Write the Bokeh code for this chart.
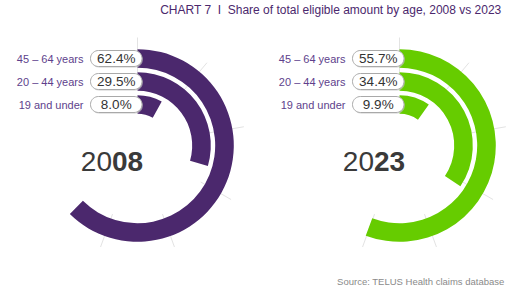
import numpy as np
from bokeh.plotting import figure
from bokeh.models import Range1d, ColumnDataSource
from bokeh.core.properties import value
from bokeh.embed import file_html
from bokeh.resources import INLINE

# ---- data ----
categories = ["45 – 64 years", "20 – 44 years", "19 and under"]
share_2008 = [62.4, 29.5, 8.0]
share_2023 = [55.7, 34.4, 9.9]
years = ["2008", "2023"]
title_text = "CHART 7\u00a0\u00a0I\u00a0\u00a0Share of total eligible amount by age, 2008 vs 2023"
source_text = "Source: TELUS Health claims database"

# ---- style / layout ----
W, H = 519, 296
FONT = value("Liberation Sans")
PURPLE = "#4B286D"
GREEN = "#66CC00"
LABEL_PURPLE = "#5E3F8C"
ring_colors = [PURPLE, GREEN]
centers_x = [137, 399]
center_y_img = 145
ring_mid_r = [87, 64, 41]
ring_half = 9.3
spoke_angles_deg = [0, 40, 80, 120, 160, 200]
spoke_r = (73, 108)


def fy(y_img):
    return H - y_img


p = figure(width=W, height=H, x_range=Range1d(0, W), y_range=Range1d(0, H),
           output_backend="svg", toolbar_location=None, min_border=0,
           x_axis_location=None, y_axis_location=None)
p.grid.visible = False
p.outline_line_color = None
p.background_fill_color = "white"
p.border_fill_color = "white"


def rounded_rect(x0, x1, y0, y1, r, n=10):
    xs, ys = [], []
    corners = [(x1 - r, y1 - r, 0, 90), (x0 + r, y1 - r, 90, 180),
               (x0 + r, y0 + r, 180, 270), (x1 - r, y0 + r, 270, 360)]
    for cx, cy, a0, a1 in corners:
        t = np.radians(np.linspace(a0, a1, n))
        xs.extend(cx + r * np.cos(t))
        ys.extend(cy + r * np.sin(t))
    return xs, ys


cy = fy(center_y_img)
for idx, (cx, shares, yr) in enumerate(zip(centers_x, [share_2008, share_2023], years)):
    color = ring_colors[idx]
    # faint spokes
    a = np.radians(spoke_angles_deg)
    p.segment(x0=cx + spoke_r[0] * np.sin(a), y0=cy + spoke_r[0] * np.cos(a),
              x1=cx + spoke_r[1] * np.sin(a), y1=cy + spoke_r[1] * np.cos(a),
              line_color="#e3e3e3", line_width=1)
    # rings
    src = ColumnDataSource(dict(
        x=[cx] * len(shares), y=[cy] * len(shares),
        ri=[r - ring_half for r in ring_mid_r],
        ro=[r + ring_half for r in ring_mid_r],
        start=[np.pi / 2] * len(shares),
        end=[np.pi / 2 - s / 100 * 2 * np.pi for s in shares]))
    p.annular_wedge(x="x", y="y", inner_radius="ri", outer_radius="ro",
                    start_angle="start", end_angle="end", direction="clock",
                    source=src, fill_color=color, line_color=None)
    # pills + labels
    pill_x0, pill_x1 = cx - 47, cx + 4.5
    for r, cat, s in zip(ring_mid_r, categories, shares):
        yc = cy + r
        sx, sy = rounded_rect(pill_x0 + 0.8, pill_x1 + 0.8, yc - 8 - 1.2, yc + 8 - 1.2, 8)
        p.patch(sx, sy, fill_color="#c8c8c8", fill_alpha=0.6, line_color=None)
        px, py = rounded_rect(pill_x0, pill_x1, yc - 8, yc + 8, 8)
        p.patch(px, py, fill_color="white", line_color="#a9a9a9", line_width=1)
        p.text(x=[(pill_x0 + pill_x1) / 2], y=[yc], text=[f"{s:.1f}%"],
               text_font=FONT, text_font_size="13.5px", text_color="#333333",
               text_align="center", text_baseline="middle")
        p.text(x=[cx - 54], y=[yc], text=[cat], text_font=FONT,
               text_font_size="11px", text_color=LABEL_PURPLE,
               text_align="right", text_baseline="middle")
    # year text: first two digits regular, last two bold
    ty = fy(161)
    p.text(x=[cx - 25.5], y=[ty], text=[yr[:2]], text_font=FONT,
           text_font_size="28px", text_color="#3a3a3a",
           text_align="right", text_baseline="middle")
    p.text(x=[cx - 25.5], y=[ty], text=[yr[2:]], text_font=FONT,
           text_font_size="28px", text_font_style="bold", text_color="#3a3a3a",
           text_align="left", text_baseline="middle")

p.text(x=[501], y=[fy(9.5)], text=[title_text], text_font=FONT,
       text_font_size="12px", text_color=PURPLE, text_align="right",
       text_baseline="middle")
p.text(x=[504], y=[fy(281)], text=[source_text], text_font=FONT,
       text_font_size="9.5px", text_color="#8a8a8a", text_align="right",
       text_baseline="middle")

open("out.html", "w").write(file_html(p, INLINE))
